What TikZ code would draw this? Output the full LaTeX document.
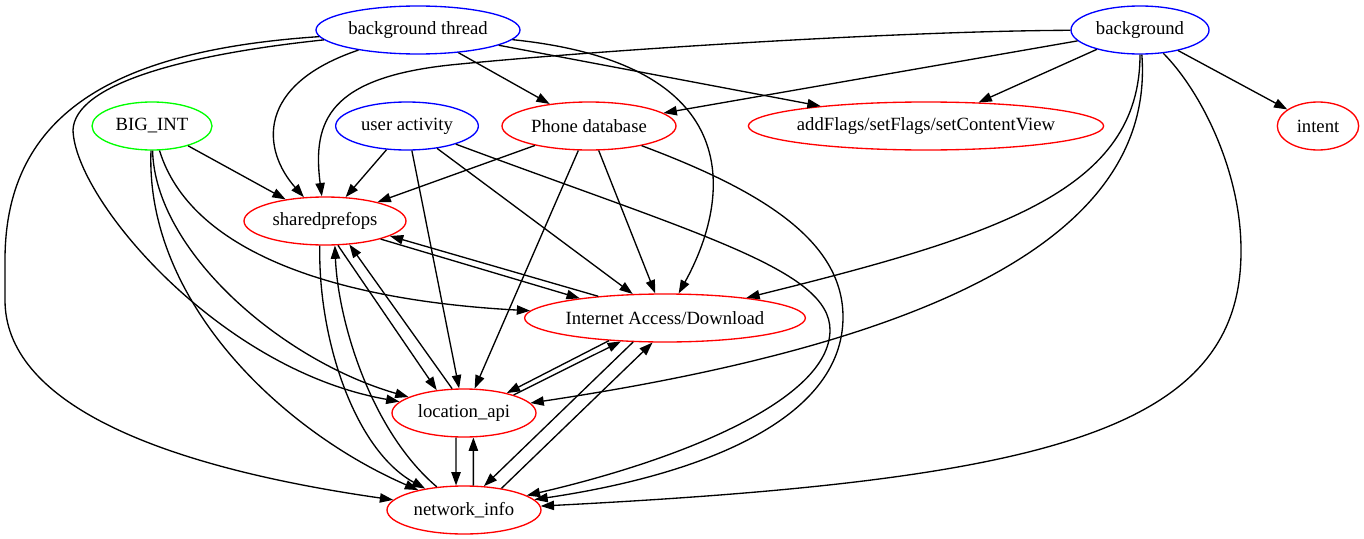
\documentclass[tikz,border=0pt]{standalone}
\usepackage{fontspec}
\setmainfont{Liberation Serif}
\usetikzlibrary{shapes.geometric,arrows.meta}

\begin{document}
\begin{tikzpicture}[x=0.75pt, y=0.75pt,
      vertex/.style={ellipse, draw, line width=1pt, inner sep=0pt, minimum height=36pt,
                     font=\fontsize{14}{16}\selectfont},
      ctx/.style={vertex, draw=blue},
      res/.style={vertex, draw=red},
      seed/.style={vertex, draw=green},
      arr/.style={-{Triangle[length=10pt,width=7pt]}, line width=1pt}]
    \useasboundingbox (0,0) rectangle (1364,-539);
    \node[ctx, minimum width=153pt] (bt) at (418,-30) {background thread};
    \node[ctx, minimum width=103.5pt] (bg) at (1140,-30) {background};
    \node[seed, minimum width=90pt] (bigint) at (152,-126) {BIG\_INT};
    \node[ctx, minimum width=107pt] (ua) at (407,-126) {user activity};
    \node[res, minimum width=130.5pt] (pd) at (589,-126) {Phone database};
    \node[res, minimum width=265.5pt, inner xsep=-2.6pt] (flags) at (926,-126) {addFlags/setFlags/setContentView};
    \node[res, minimum width=61pt] (intent) at (1318,-126) {intent};
    \node[res, minimum width=121.5pt] (sp) at (325,-221) {sharedprefops};
    \node[res, minimum width=208.5pt] (ia) at (665,-318) {Internet Access/Download};
    \node[res, minimum width=108pt] (loc) at (464,-413) {location\_api};
    \node[res, minimum width=115.5pt] (net) at (464,-510) {network\_info};
    % straight edges
    \draw[arr] (bt) -- (pd); \draw[arr] (bt) -- (flags);
    \draw[arr] (bg) -- (flags); \draw[arr] (bg) -- (intent); \draw[arr] (bg) -- (pd);
    \draw[arr] (bigint) -- (sp); \draw[arr] (ua) -- (sp); \draw[arr] (pd) -- (sp);
    \draw[arr] (ua) -- (loc); \draw[arr] (ua) -- (ia);
    \draw[arr] (pd) -- (loc); \draw[arr] (pd) -- (ia);
    % curved edges
    \draw[arr] (bt) .. controls (760,-65) and (725,-210) .. (ia);
    \draw[arr] (bt) .. controls (255,-85) and (262,-150) .. (sp);
    \draw[arr] (bt) .. controls (180,-55) and (75,-85) .. (73,-130)
                    .. controls (75,-200) and (220,-370) .. (loc);
    \draw[arr] (bt) .. controls (120,-50) and (5,-110) .. (5,-260) -- (5,-300)
                    .. controls (5,-400) and (150,-465) .. (net);
    \draw[arr] (bg) .. controls (900,-31) and (600,-50) .. (450,-65)
                    .. controls (330,-78) and (312,-120) .. (sp);
    \draw[arr] (bg) .. controls (1140,-190) and (1000,-235) .. (ia);
    \draw[arr] (bg) .. controls (1155,-230) and (950,-340) .. (loc);
    \draw[arr] (bg) .. controls (1200,-90) and (1241,-170) .. (1241,-250)
                    .. controls (1242,-430) and (1050,-480) .. (net);
    \draw[arr] (bigint) .. controls (190,-250) and (330,-300) .. (ia);
    \draw[arr] (bigint) .. controls (155,-250) and (280,-360) .. (loc);
    \draw[arr] (bigint) .. controls (145,-300) and (280,-430) .. (net);
    \draw[arr] (ua) .. controls (700,-235) and (830,-270) .. (830,-330)
                    .. controls (830,-400) and (680,-460) .. (net);
    \draw[arr] (pd) .. controls (760,-190) and (843,-240) .. (843,-317)
                    .. controls (843,-420) and (700,-475) .. (net);
    \draw[arr] (sp.-102) .. controls (318,-340) and (355,-450) .. (net);
    \draw[arr] (net) .. controls (370,-430) and (338,-320) .. (sp.-68);
    % pairs between the lower nodes
    \draw[arr] (sp.-62) -- (loc.140); \draw[arr] (loc.116) -- (sp.-44);
    \draw[arr] (sp.-18) -- (ia.167); \draw[arr] (ia.162) -- (sp.-13);
    \draw[arr] (ia.-158) -- (loc.25); \draw[arr] (loc.20) -- (ia.-152);
    \draw[arr] (ia.-143) -- (net.50); \draw[arr] (net.30) -- (ia.-117);
    \draw[arr] (loc.-108) -- (net.108); \draw[arr] (net.69) -- (loc.-69);
  \end{tikzpicture}
\end{document}
